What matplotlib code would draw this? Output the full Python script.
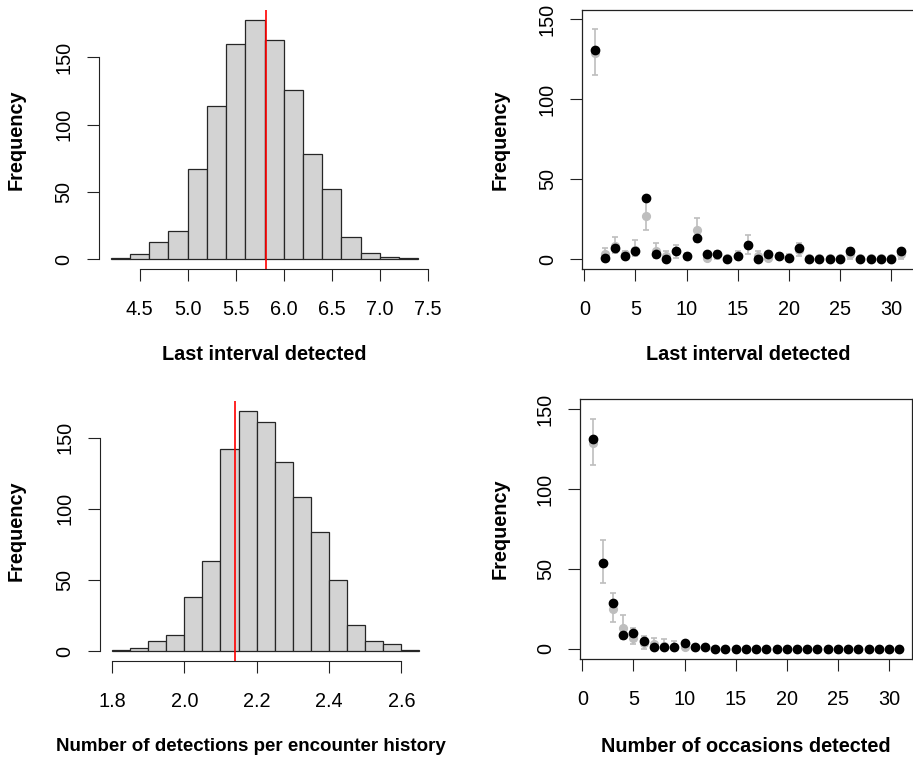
import matplotlib
matplotlib.use('Agg')
import matplotlib.pyplot as plt
import numpy as np

plt.rcParams['font.family'] = ['Liberation Sans', 'DejaVu Sans']

# ---------------- data ----------------
last_edges = [4.2, 4.4, 4.6, 4.8, 5.0, 5.2, 5.4, 5.6, 5.8, 6.0, 6.2, 6.4, 6.6, 6.8, 7.0, 7.2, 7.4]
last_counts = [1, 4, 13, 21, 67, 114, 160, 178, 163, 126, 78, 52, 17, 5, 2, 1]
last_observed = 5.816
last_xticks = [4.5, 5.0, 5.5, 6.0, 6.5, 7.0, 7.5]

det_edges = [1.80, 1.85, 1.90, 1.95, 2.00, 2.05, 2.10, 2.15, 2.20, 2.25, 2.30,
             2.35, 2.40, 2.45, 2.50, 2.55, 2.60, 2.65]
det_counts = [1, 2, 7, 11, 38, 63, 142, 169, 161, 133, 108, 84, 50, 18, 7, 5, 1]
det_observed = 2.141
det_xticks = [1.8, 2.0, 2.2, 2.4, 2.6]

intervals = list(range(1, 32))
last_obs = [131, 1, 7, 2, 5, 38, 3, 0, 5, 2, 13, 3, 3, 0, 2, 9, 0, 3, 2, 1, 7,
            0, 0, 0, 0, 5, 0, 0, 0, 0, 5]
last_sim = [129, 3, 8, 3, 6, 27, 5, 2, 5, 2, 18, 1, 3, 1, 2, 9, 2, 1, 2, 1, 6,
            1, 1, 1, 1, 3, 1, 1, 1, 1, 3]
last_lo = [115, 0, 4, 0, 2, 18, 1, 0, 1, 0, 11, 0, 0, 0, 0, 3, 0, 0, 0, 0, 2,
           0, 0, 0, 0, 0, 0, 0, 0, 0, 0]
last_hi = [144, 7, 14, 5, 12, 37, 10, 5, 9, 4, 26, 4, 5, 2, 5, 15, 5, 4, 4, 3, 10,
           2, 2, 2, 2, 7, 2, 2, 2, 2, 6]

occasions = list(range(1, 32))
occ_obs = [131, 54, 29, 9, 10, 5, 1, 1, 1, 4, 1, 1, 0, 0, 0, 0, 0, 0, 0, 0, 0,
           0, 0, 0, 0, 0, 0, 0, 0, 0, 0]
occ_sim = [129, 54, 25, 13, 7, 4, 3, 2, 1, 1, 1, 1, 0, 0, 0, 0, 0, 0, 0, 0, 0,
           0, 0, 0, 0, 0, 0, 0, 0, 0, 0]
occ_lo = [115, 41, 17, 6, 3, 0, 0, 0, 0, 0, 0, 0, 0, 0, 0, 0, 0, 0, 0, 0, 0,
          0, 0, 0, 0, 0, 0, 0, 0, 0, 0]
occ_hi = [144, 68, 35, 21, 13, 8, 7, 6, 5, 3, 2, 2, 1, 1, 1, 1, 1, 1, 1, 1, 1,
          1, 1, 1, 1, 1, 1, 1, 1, 1, 1]

freq_ticks = [0, 50, 100, 150]
scatter_xticks = [0, 5, 10, 15, 20, 25, 30]

# ---------------- layout ----------------
W, H = 913, 760
fig = plt.figure(figsize=(W / 100, H / 100), dpi=100)

def add_ax(l, t, r, b):
    return fig.add_axes([l / W, 1 - b / H, (r - l) / W, (b - t) / H])

TICK_FS = 14.3
LAB_FS = 14.3
AX_COL = '#222222'

def style_ticks(ax):
    ax.tick_params(axis='both', direction='out', length=8.3, width=0.8,
                   color=AX_COL, labelsize=TICK_FS)
    ax.tick_params(axis='x', pad=14.0)
    ax.tick_params(axis='y', pad=10.0)
    for lab in ax.get_yticklabels():
        lab.set_rotation(90)
        lab.set_va('center')
        lab.set_ha('right')

def r_range(lo, hi):
    d = (hi - lo) * 0.04
    return lo - d, hi + d

def hist_panel(ax, edges, counts, obs, xticks, xlabel, xlab_fs=LAB_FS):
    edges = np.asarray(edges)
    ax.bar(edges[:-1], counts, width=np.diff(edges), align='edge',
           color='#D3D3D3', edgecolor='#262626', linewidth=0.9)
    ax.axvline(obs, color='red', linewidth=1.2)
    ax.set_xlim(*r_range(edges[0], edges[-1]))
    ax.set_ylim(*r_range(0, max(counts)))
    ax.set_xticks(xticks)
    ax.set_xticklabels([f'{v:.1f}' for v in xticks])
    ax.set_yticks(freq_ticks)
    ax.set_yticklabels([str(v) for v in freq_ticks])
    for s in ['top', 'right']:
        ax.spines[s].set_visible(False)
    ax.spines['left'].set_bounds(freq_ticks[0], freq_ticks[-1])
    ax.spines['bottom'].set_bounds(xticks[0], xticks[-1])
    for s in ['left', 'bottom']:
        ax.spines[s].set_linewidth(0.8)
        ax.spines[s].set_color(AX_COL)
    style_ticks(ax)
    ax.set_xlabel(xlabel, fontsize=xlab_fs, fontweight='bold', va='center')
    ax.set_ylabel('Frequency', fontsize=LAB_FS, fontweight='bold', va='center')

def scatter_panel(ax, x, obs, sim, lo, hi, xlabel):
    sim = np.asarray(sim)
    err = np.vstack([sim - np.asarray(lo), np.asarray(hi) - sim])
    ax.errorbar(x, sim, yerr=err, fmt='o', color='#BEBEBE', ecolor='#BEBEBE',
                markersize=5.6, elinewidth=1.2, capsize=2.2, capthick=1.2, zorder=2)
    ax.plot(x, obs, 'o', color='black', markersize=6.0, zorder=3)
    ax.set_xlim(*r_range(min(x), max(x)))
    ax.set_ylim(*r_range(0, 150))
    ax.set_xticks(scatter_xticks)
    ax.set_xticklabels([str(v) for v in scatter_xticks])
    ax.set_yticks(freq_ticks)
    ax.set_yticklabels([str(v) for v in freq_ticks])
    for s in ax.spines.values():
        s.set_linewidth(0.9)
        s.set_color(AX_COL)
    style_ticks(ax)
    ax.set_xlabel(xlabel, fontsize=LAB_FS, fontweight='bold', va='center')
    ax.set_ylabel('Frequency', fontsize=LAB_FS, fontweight='bold', va='center')

ax1 = add_ax(98.6, 10, 430.4, 269)
hist_panel(ax1, last_edges, last_counts, last_observed, last_xticks, 'Last interval detected')
ax1.xaxis.set_label_coords(0.5, (269 - 355) / 259)
ax1.yaxis.set_label_coords((16 - 98.6) / 331.8, 0.5)

ax2 = add_ax(582.3, 9.7, 913.5, 268.9)
scatter_panel(ax2, intervals, last_obs, last_sim, last_lo, last_hi, 'Last interval detected')
ax2.xaxis.set_label_coords(0.5, (268.9 - 355) / 259.2)
ax2.yaxis.set_label_coords((500 - 582.3) / 331.2, 0.5)

ax3 = add_ax(99.7, 401, 431.7, 660.7)
hist_panel(ax3, det_edges, det_counts, det_observed, det_xticks,
           'Number of detections per encounter history', xlab_fs=13.5)
ax3.xaxis.set_label_coords((251 - 99.7) / 332, (660.7 - 746.7) / 259.7)
ax3.yaxis.set_label_coords((16 - 99.7) / 332, 0.5)

ax4 = add_ax(580.3, 399.4, 911.5, 658.6)
scatter_panel(ax4, occasions, occ_obs, occ_sim, occ_lo, occ_hi, 'Number of occasions detected')
ax4.xaxis.set_label_coords(0.5, (658.6 - 746.7) / 259.2)
ax4.yaxis.set_label_coords((500 - 580.3) / 331.2, 0.5)

fig.savefig('out.png', dpi=100)
